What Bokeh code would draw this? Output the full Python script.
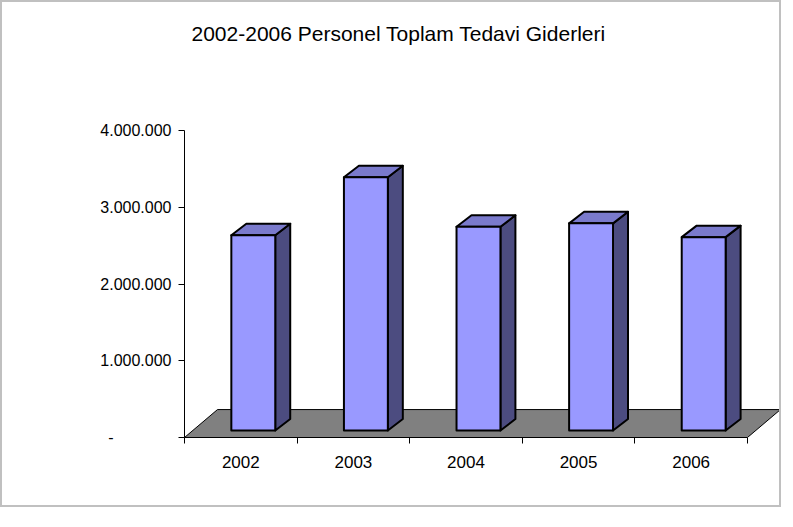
from bokeh.plotting import figure
from bokeh.models import Range1d, FixedTicker, ColumnDataSource
from bokeh.embed import file_html
from bokeh.resources import INLINE

# ---- data ----
years = ["2002", "2003", "2004", "2005", "2006"]
values = [2545000, 3300000, 2655000, 2700000, 2520000]
y_ticks = [0, 1000000, 2000000, 3000000, 4000000]
y_tick_labels = ["-" + "\u2007" * 6 + "\u00a0", "1.000.000", "2.000.000", "3.000.000", "4.000.000"]
title_text = "2002-2006  Personel Toplam Tedavi Giderleri"

# ---- 3D look (style constants, in axis units) ----
FLOOR_DX, FLOOR_DY = 0.293, 364000
FRONT_DX, FRONT_DY = 0.073, 91000
BAR_DX, BAR_DY = 0.133, 150000
BAR_LEFT, BAR_W = 0.343, 0.39
FRONT_COLOR, SIDE_COLOR, TOP_COLOR = "#9999FF", "#4C4C80", "#7A7ACC"
FONT = "Liberation Sans"

n = len(years)

p = figure(width=781, height=507, output_backend="svg", toolbar_location=None,
           x_range=Range1d(0, 5.32), y_range=Range1d(0, 4.9e6),
           min_border_left=182, min_border_bottom=72, min_border_top=58,
           min_border_right=0, title=title_text)
p.styles = {"border": "2px solid #c0c0c0"}
p.background_fill_color = "white"
p.border_fill_color = "white"
p.outline_line_color = None
p.xgrid.visible = False
p.ygrid.visible = False

p.title.align = "left"
p.title.offset = 7
p.title.text_font = FONT
p.title.text_font_size = "21px"
p.title.text_font_style = "normal"
p.title.text_color = "black"
p.title.standoff = 34

# floor
p.patch([0, n, n + FLOOR_DX, FLOOR_DX], [0, 0, FLOOR_DY, FLOOR_DY],
        fill_color="#808080", line_color="black", line_width=1)

# bars
lefts = [i + BAR_LEFT + FRONT_DX for i in range(n)]
rights = [l + BAR_W for l in lefts]
bottoms = [FRONT_DY] * n
tops = [v + FRONT_DY for v in values]
side_xs = [[r, r + BAR_DX, r + BAR_DX, r] for r in rights]
side_ys = [[b, b + BAR_DY, t + BAR_DY, t] for b, t in zip(bottoms, tops)]
top_xs = [[l, r, r + BAR_DX, l + BAR_DX] for l, r in zip(lefts, rights)]
top_ys = [[t, t, t + BAR_DY, t + BAR_DY] for t in tops]

src = ColumnDataSource(dict(year=years, value=values, left=lefts, right=rights,
                            bottom=bottoms, top=tops, side_xs=side_xs, side_ys=side_ys,
                            top_xs=top_xs, top_ys=top_ys))
p.patches("side_xs", "side_ys", source=src, fill_color=SIDE_COLOR,
          line_color="black", line_width=2, line_join="round")
p.patches("top_xs", "top_ys", source=src, fill_color=TOP_COLOR,
          line_color="black", line_width=2, line_join="round")
p.quad(left="left", right="right", bottom="bottom", top="top", source=src,
       fill_color=FRONT_COLOR, line_color="black", line_width=2, line_join="round")

# x axis
centers = [i + 0.5 for i in range(n)]
p.xaxis.ticker = FixedTicker(ticks=centers, minor_ticks=list(range(n + 1)))
p.xaxis.major_label_overrides = {c: y for c, y in zip(centers, years)}
p.xaxis.bounds = (0, n)
p.xaxis.major_tick_out = 0
p.xaxis.major_tick_in = 0
p.xaxis.minor_tick_out = 6
p.xaxis.minor_tick_in = 0
p.xaxis.minor_tick_line_color = "black"
p.xaxis.axis_line_color = "black"
p.xaxis.major_label_standoff = 12
p.xaxis.major_label_text_font = FONT
p.xaxis.major_label_text_font_size = "17px"
p.xaxis.major_label_text_color = "black"

# y axis
p.yaxis.ticker = FixedTicker(ticks=y_ticks, minor_ticks=[])
p.yaxis.major_label_overrides = {t: s for t, s in zip(y_ticks, y_tick_labels)}
p.yaxis.bounds = (0, y_ticks[-1])
p.yaxis.major_tick_out = 6
p.yaxis.major_tick_in = 0
p.yaxis.major_tick_line_color = "black"
p.yaxis.axis_line_color = "black"
p.yaxis.major_label_standoff = 7
p.yaxis.major_label_text_font = FONT
p.yaxis.major_label_text_font_size = "16px"
p.yaxis.major_label_text_color = "black"

open("out.html", "w").write(file_html(p, INLINE))
